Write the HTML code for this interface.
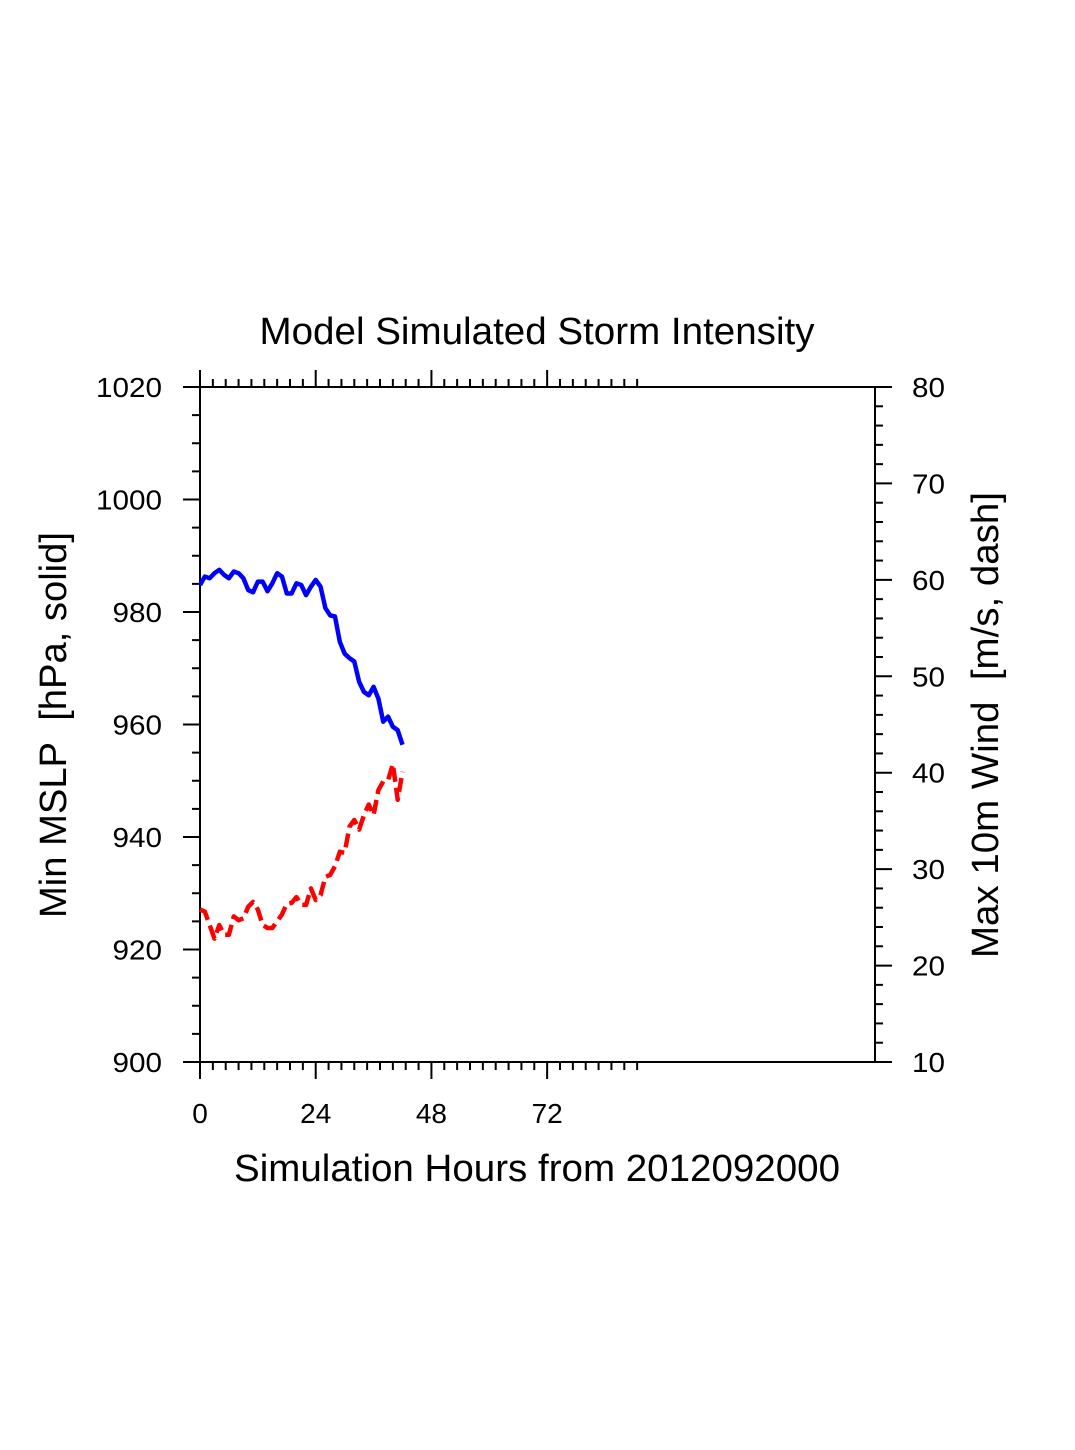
<!DOCTYPE html>
<html><head><meta charset="utf-8"><style>
html,body{margin:0;padding:0;background:#fff;}
svg{display:block;font-family:"Liberation Sans",Arial,sans-serif;}
</style></head><body>
<svg id="chart" width="1075" height="1450" viewBox="0 0 1075 1450">
<text x="537" y="344" font-size="38" text-anchor="middle" textLength="555" lengthAdjust="spacingAndGlyphs">Model Simulated Storm Intensity</text>
<g id="axes"></g>
<g id="series"></g>
<text x="537" y="1181" font-size="38" text-anchor="middle" textLength="606" lengthAdjust="spacingAndGlyphs">Simulation Hours from 2012092000</text>
<text transform="translate(66,725) rotate(-90)" font-size="38" text-anchor="middle" textLength="386" lengthAdjust="spacingAndGlyphs">Min MSLP&#160; [hPa, solid]</text>
<text transform="translate(998,725) rotate(-90)" font-size="38" text-anchor="middle" textLength="466" lengthAdjust="spacingAndGlyphs">Max 10m Wind&#160; [m/s, dash]</text>
</svg>
<script>
const hours = [0,1,2,3,4,5,6,7,8,9,10,11,12,13,14,15,16,17,18,19,20,21,22,23,24,25,26,27,28,29,30,31,32,33,34,35,36,37,38,39,40,41,42];
const mslp = [984.8,986.3,986.0,986.9,987.5,986.6,986.0,987.2,986.9,986.0,983.9,983.5,985.4,985.4,983.7,985.1,986.9,986.3,983.3,983.3,985.1,984.8,983.0,984.5,985.7,984.5,980.7,979.4,979.2,974.7,972.6,971.8,971.2,967.6,965.8,965.2,966.7,964.6,960.5,961.4,959.6,959.0,956.4];
const wind = [25.8,25.6,24.2,22.8,24.2,23.2,23.2,25.1,24.7,24.9,26.1,26.6,25.8,24.2,23.9,23.9,24.6,25.3,26.4,26.5,27.1,26.3,26.3,28.0,26.8,27.3,29.2,29.4,30.3,31.8,31.7,34.4,35.1,34.1,35.6,36.7,35.6,38.2,39.1,39.2,40.9,37.2,40.1];
const leftTicks = [900,920,940,960,980,1000,1020];
const rightTicks = [10,20,30,40,50,60,70,80];
const xTicks = [0,24,48,72];

const X0=200,X1=875,Y0=387,Y1=1062;
const xs = h => X0 + (h/140)*(X1-X0);
const yL = p => Y1 - (p-900)/120*(Y1-Y0);
const yR = w => Y1 - (w-10)/70*(Y1-Y0);
const NS="http://www.w3.org/2000/svg";
const axes=document.getElementById('axes'), series=document.getElementById('series');
function mk(tag,attrs,parent){const e=document.createElementNS(NS,tag);for(const k in attrs)e.setAttribute(k,attrs[k]);parent.appendChild(e);return e;}
function line(x1,y1,x2,y2,name){const l=mk('line',{x1,y1,x2,y2,stroke:'#000','stroke-width':2},axes);

return l;}

const frame=mk('rect',{x:X0,y:Y0,width:X1-X0,height:Y1-Y0,fill:'none',stroke:'#000','stroke-width':2},axes);



for(let i=0;i<=34;i++){const h=i*24/9;const x=xs(h);const major=(i%9===0);const len=major?17:8;
line(x,Y1,x,Y1+len,'x-tick'); line(x,Y0,x,Y0-len,'x-tick-top');}
xTicks.forEach(t=>{const tx=mk('text',{x:xs(t),y:1123,'font-size':28,'text-anchor':'middle'},axes);tx.textContent=t;

});

for(let p=900;p<=1020;p+=5){const y=yL(p);const major=(p%20===0);line(X0-(major?17:8),y,X0,y,'left-tick');}
leftTicks.forEach(t=>{const tx=mk('text',{x:162,y:yL(t)+10,'font-size':28,'text-anchor':'end','textLength':String(t).length*16.5,'lengthAdjust':'spacingAndGlyphs'},axes);tx.textContent=t;

});

for(let w=10;w<=80;w+=2){const y=yR(w);const major=(w%10===0);line(X1,y,X1+(major?17:8),y,'right-tick');}
rightTicks.forEach(t=>{const tx=mk('text',{x:912,y:yR(t)+10,'font-size':28,'text-anchor':'start','textLength':33,'lengthAdjust':'spacingAndGlyphs'},axes);tx.textContent=t;

});

const mp=mk('polyline',{points:hours.map((h,i)=>xs(h)+','+yL(mslp[i])).join(' '),fill:'none',stroke:'#0000ff','stroke-width':4.5,'stroke-linejoin':'round'},series);


const wp=mk('polyline',{points:hours.map((h,i)=>xs(h)+','+yR(wind[i])).join(' '),fill:'none',stroke:'#ff0000','stroke-width':4.5,'stroke-dasharray':'14 6','stroke-linejoin':'round'},series);


</script>
</body></html>
